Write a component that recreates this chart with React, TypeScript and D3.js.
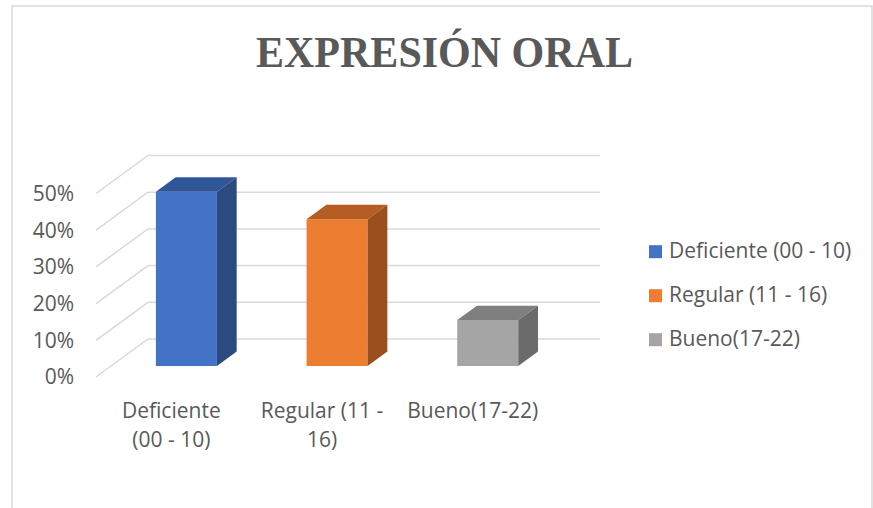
import React from "react";
import * as d3 from "d3";

const categories = ["Deficiente (00 - 10)", "Regular (11 - 16)", "Bueno(17-22)"];
const axisLabelLines = [["Deficiente", "(00 - 10)"], ["Regular (11 -", "16)"], ["Bueno(17-22)"]];
const values = [0.475, 0.4, 0.125];
const yTicks = [0, 0.1, 0.2, 0.3, 0.4, 0.5];
const frontColors = ["#4472C4", "#ED7D31", "#A5A5A5"];
const topColors = ["#30569A", "#B55D23", "#7F7F7F"];
const sideColors = ["#2B4A80", "#9A501E", "#6B6B6B"];

const W = 873;
const H = 508;
// oblique depth vector of the floor
const DX = 52;
const DY = -38;
const Z0 = 0.29;
const Z1 = 0.67;
const FONT = "'Open Sans', sans-serif";
const FS = 21;
const TXT = "#595959";

const P = (x: number, y: number, z: number) => [x + z * DX, y + z * DY];
const poly = (pts: number[][]) => pts.map((p) => p.join(",")).join(" ");

export default function App() {
  const x = d3.scaleBand<string>().domain(categories).range([96, 548]).paddingInner(0.595).paddingOuter(0.2975);
  const y = d3.scaleLinear().domain([0, 0.5]).range([377, 193.5]);
  const fmt = d3.format(".0%");

  return (
    <svg width={W} height={H} style={{ position: "absolute", left: 0, top: 0, background: "#fff" }}>
      <rect x={12} y={6} width={860} height={H + 10} fill="#fff" stroke="#D9D9D9" strokeWidth={1.5} />

      <text
        x={256}
        y={67}
        fontFamily="'Liberation Serif', 'Times New Roman', serif"
        fontWeight="bold"
        fontSize={45}
        fill={TXT}
        textLength={377}
        lengthAdjust="spacingAndGlyphs"
      >
        EXPRESIÓN ORAL
      </text>

      {/* gridlines: side wall diagonal + back wall horizontal */}
      {yTicks.map((t) => {
        const [fx, fy] = P(96, y(t), 0);
        const [bx, by] = P(96, y(t), 1);
        return (
          <g key={t}>
            <polyline
              points={poly([[fx, fy], [bx, by], [548 + DX, by]])}
              fill="none"
              stroke="#D9D9D9"
              strokeWidth={1.5}
            />
            <text x={74} y={fy} dy="0.35em" textAnchor="end" fontFamily={FONT} fontSize={FS} fill={TXT}>
              {fmt(t)}
            </text>
          </g>
        );
      })}

      {/* bars */}
      {categories.map((c, i) => {
        const x0 = x(c)!;
        const x1 = x0 + x.bandwidth();
        const yt = y(values[i]);
        const yb = y(0);
        return (
          <g key={c}>
            <polygon points={poly([P(x0, yt, Z0), P(x1, yt, Z0), P(x1, yb, Z0), P(x0, yb, Z0)])} fill={frontColors[i]} />
            <polygon points={poly([P(x0, yt, Z0), P(x1, yt, Z0), P(x1, yt, Z1), P(x0, yt, Z1)])} fill={topColors[i]} />
            <polygon points={poly([P(x1, yt, Z0), P(x1, yt, Z1), P(x1, yb, Z1), P(x1, yb, Z0)])} fill={sideColors[i]} />
          </g>
        );
      })}

      {/* category labels */}
      {categories.map((c, i) => (
        <text key={c} textAnchor="middle" fontFamily={FONT} fontSize={FS} fill={TXT}>
          {axisLabelLines[i].map((line, j) => (
            <tspan key={j} x={x(c)! + x.bandwidth() / 2} y={418 + j * 29}>
              {line}
            </tspan>
          ))}
        </text>
      ))}

      {/* legend */}
      {categories.map((c, i) => (
        <g key={c} transform={`translate(649, ${251.7 + i * 44})`}>
          <rect x={0} y={-6.5} width={13} height={13} fill={frontColors[i]} />
          <text x={20} y={0} dy="0.3em" fontFamily={FONT} fontSize={FS} fill={TXT}>
            {c}
          </text>
        </g>
      ))}
    </svg>
  );
}
